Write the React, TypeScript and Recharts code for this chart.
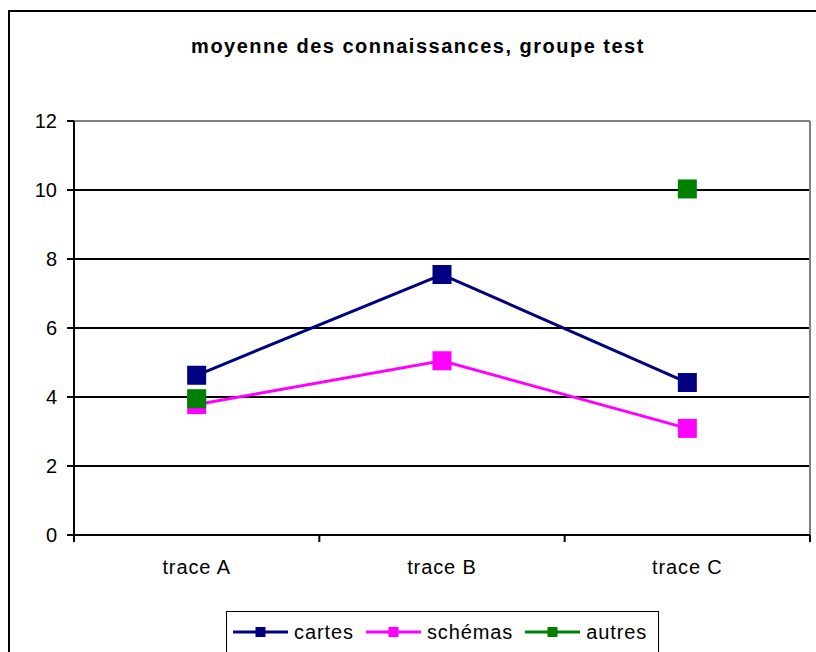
import React from "react";
import { LineChart, Line, XAxis, YAxis, CartesianGrid, Legend, ReferenceLine } from "recharts";

const categories = ["trace A", "trace B", "trace C"];
const cartesValues = [4.63, 7.55, 4.42];
const schemasValues = [3.78, 5.05, 3.09];
const autresValues: (number | null)[] = [3.95, null, 10.03];
const yTicks = [0, 2, 4, 6, 8, 10, 12];
const seriesKeys = ["cartes", "schemas", "autres"];
const seriesNames = ["cartes", "schémas", "autres"];
const seriesColors = ["#000080", "#FF00FF", "#008000"];
const title = "moyenne des connaissances, groupe test";

const data = categories.map((c, i) => ({
  pos: i + 0.5,
  name: c,
  cartes: cartesValues[i],
  schemas: schemasValues[i],
  autres: autresValues[i],
}));

const FONT = "'Liberation Sans', Arial, sans-serif";

const makeDot = (color: string) => (props: any) => {
  const { cx, cy, key } = props;
  if (cx == null || cy == null || props.value == null) return <g key={key} />;
  return <rect key={key} x={cx - 9.5} y={cy - 9.5} width={19} height={19} fill={color} />;
};

const LegendContent = () => (
  <div
    style={{
      border: "1px solid #000",
      background: "#fff",
      display: "flex",
      alignItems: "flex-start",
      padding: "10px 11px 14px 6px",
      fontFamily: FONT,
      fontSize: 20,
      letterSpacing: 0.9,
      color: "#000",
      whiteSpace: "nowrap",
    }}
  >
    {seriesNames.map((n, i) => (
      <div key={n} style={{ display: "flex", alignItems: "center", marginLeft: i === 0 ? 0 : 12 }}>
        <svg width={55} height={14} style={{ display: "block" }}>
          <line x1={0} x2={55} y1={7} y2={7} stroke={seriesColors[i]} strokeWidth={3} />
          <rect x={22.5} y={2} width={10} height={10} fill={seriesColors[i]} />
        </svg>
        <span style={{ marginLeft: 6, lineHeight: "20px" }}>{n}</span>
      </div>
    ))}
  </div>
);

export default function App() {
  return (
    <div
      style={{
        position: "fixed",
        left: 0,
        top: 0,
        width: 816,
        height: 652,
        overflow: "hidden",
        background: "#fff",
      }}
    >
      <div
        style={{
          position: "absolute",
          left: 8,
          top: 10,
          width: 830,
          height: 660,
          border: "2px solid #000",
          background: "#fff",
        }}
      >
        <div
          style={{
            position: "absolute",
            left: 8,
            top: 24,
            width: 800,
            textAlign: "center",
            fontFamily: FONT,
            fontWeight: "bold",
            fontSize: 20,
            lineHeight: "20px",
            letterSpacing: 1.5,
            color: "#000",
            whiteSpace: "nowrap",
          }}
        >
          {title}
        </div>
        <LineChart
          width={830}
          height={640}
          data={data}
          margin={{ top: 109, right: 30, bottom: 23, left: 0 }}
        >
          <CartesianGrid xAxisId="a" horizontal={true} vertical={false} stroke="#000" strokeWidth={2} strokeOpacity={1} />
          <XAxis
            xAxisId="a"
            dataKey="pos"
            type="number"
            domain={[0, 3]}
            ticks={[0, 1, 2, 3]}
            interval={0}
            tickFormatter={() => ""}
            height={8}
            tickSize={7}
            axisLine={{ stroke: "#000", strokeWidth: 2 }}
            tickLine={{ stroke: "#000", strokeWidth: 2 }}
          />
          <XAxis
            xAxisId="b"
            dataKey="pos"
            type="number"
            domain={[0, 3]}
            ticks={[0.5, 1.5, 2.5]}
            interval={0}
            tickFormatter={(v: number) => categories[Math.floor(v)]}
            height={40}
            tickSize={0}
            tickMargin={17}
            axisLine={false}
            tickLine={false}
            tick={{ fill: "#000", fontSize: 20, fontFamily: FONT, letterSpacing: 0.9 }}
          />
          <YAxis
            type="number"
            domain={[0, 12]}
            ticks={yTicks}
            interval={0}
            width={64}
            tickSize={7}
            tickMargin={10}
            axisLine={{ stroke: "#000", strokeWidth: 2 }}
            tickLine={{ stroke: "#000", strokeWidth: 2 }}
            tick={{ fill: "#000", fontSize: 20, fontFamily: FONT }}
          />
          <ReferenceLine xAxisId="a" y={12} stroke="#808080" strokeWidth={2} />
          <ReferenceLine xAxisId="a" x={3} stroke="#808080" strokeWidth={2} />
          {seriesKeys.map((k, i) => (
            <Line
              key={k}
              xAxisId="a"
              type="linear"
              dataKey={k}
              name={seriesNames[i]}
              stroke={seriesColors[i]}
              strokeWidth={3}
              dot={makeDot(seriesColors[i])}
              activeDot={false}
              connectNulls={false}
              isAnimationActive={false}
            />
          ))}
          <Legend
            verticalAlign="bottom"
            content={<LegendContent />}
            wrapperStyle={{ left: 216, top: 599, width: "auto" }}
          />
        </LineChart>
      </div>
    </div>
  );
}
